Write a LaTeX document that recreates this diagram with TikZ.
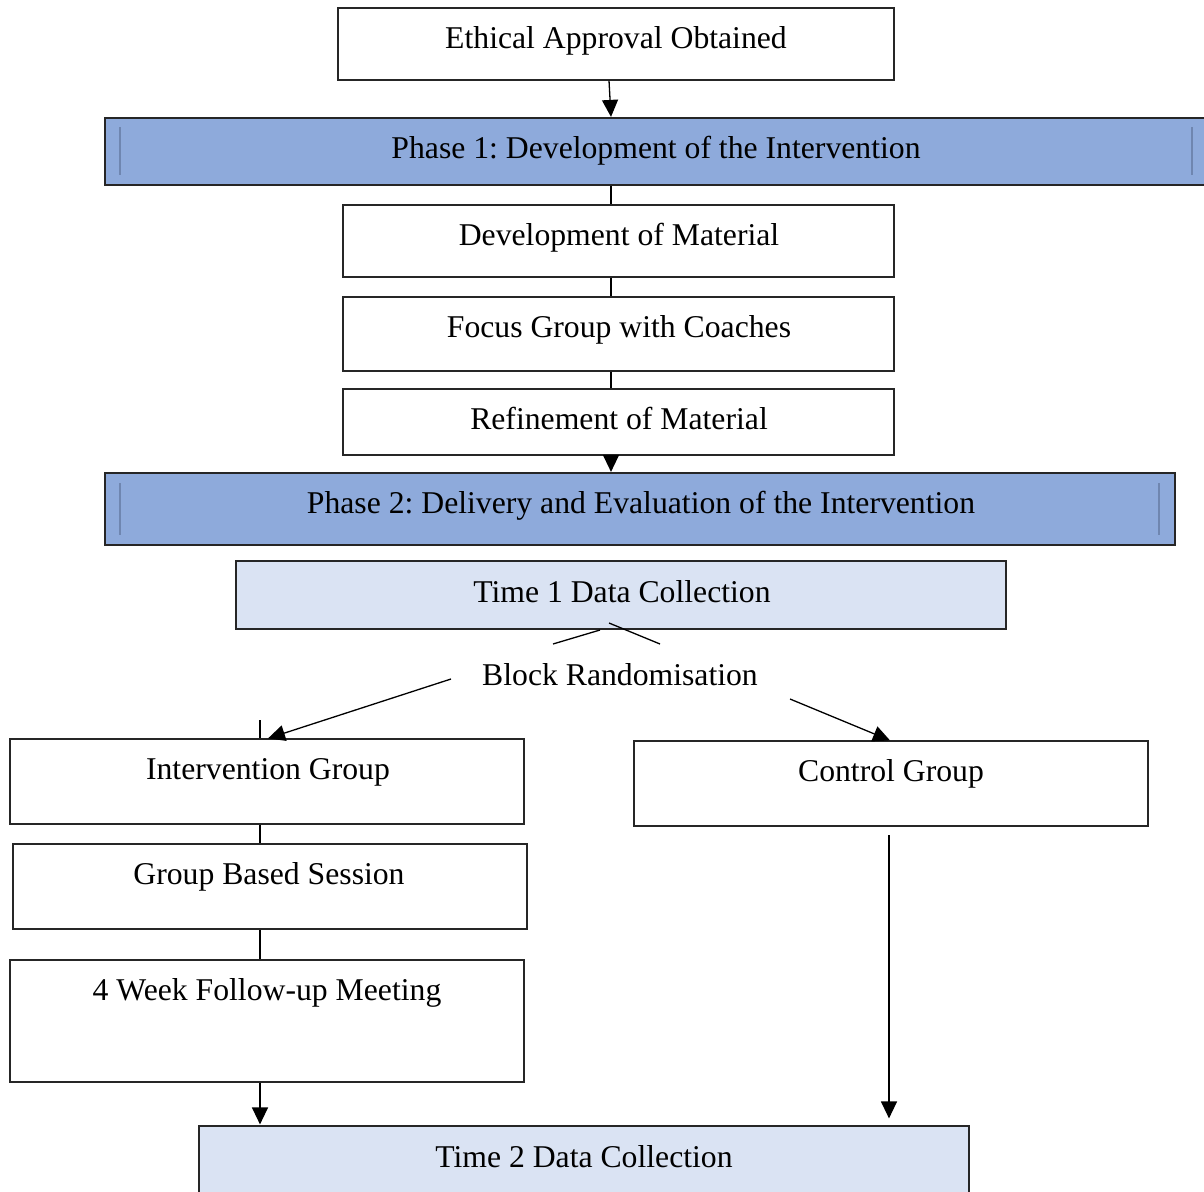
\documentclass[tikz,border=0pt]{standalone}
\usepackage{fontspec}
\setmainfont{Liberation Serif}
\usetikzlibrary{arrows.meta}
\definecolor{phasefill}{HTML}{8EAADB}
\definecolor{phaseline}{HTML}{6F86B0}
\definecolor{timefill}{HTML}{DAE3F3}
\definecolor{edge}{HTML}{262626}
\frenchspacing
\begin{document}
\begin{tikzpicture}[x=1pt,y=-1pt,
  box/.style={draw=edge, line width=1.2pt, fill=white, inner sep=0pt},
  phasebox/.style={draw=edge, line width=2.2pt, fill=phasefill, inner sep=0pt},
  timebox/.style={draw=edge, line width=1.2pt, fill=timefill, inner sep=0pt},
  txt/.style={anchor=base, inner sep=0pt, font=\fontsize{31.7}{38}\selectfont},
  link/.style={draw=black, line width=1.3pt},
  arrowlink/.style={link, -{Triangle[width=16pt,length=17pt]}},
  innerline/.style={draw=phaseline, line width=1.4pt}]
\useasboundingbox (0,0) rectangle (1204,1191);
\clip (0,0) rectangle (1204,1191);
\fill[white] (0,0) rectangle (1204,1191);

% boxes
\node[box, minimum width=556pt, minimum height=72pt] (eth) at (616,44) {};
\node[phasebox, minimum width=1105pt, minimum height=67pt] (ph1) at (657.5,151.5) {};
\node[box, minimum width=551pt, minimum height=72pt] (dev) at (618.5,241) {};
\node[box, minimum width=551pt, minimum height=74pt] (foc) at (618.5,334) {};
\node[box, minimum width=551pt, minimum height=66pt] (ref) at (618.5,422) {};
\node[phasebox, minimum width=1070pt, minimum height=72pt] (ph2) at (640,509) {};
\node[timebox, minimum width=770pt, minimum height=68pt] (t1) at (621,595) {};
\node[box, minimum width=514pt, minimum height=85pt] (ig) at (267,781.5) {};
\node[box, minimum width=514pt, minimum height=85pt] (gbs) at (270,886.5) {};
\node[box, minimum width=514pt, minimum height=122pt] (fw) at (267,1021) {};
\node[box, minimum width=514pt, minimum height=85pt] (cg) at (891,783.5) {};
\node[timebox, minimum width=770pt, minimum height=70pt] (t2) at (584,1161) {};

% vertical marks inside the phase bars
\draw[innerline] (120,127) -- (120,175);
\draw[innerline] (1192,127) -- (1192,175);
\draw[innerline] (120,483) -- (120,535);
\draw[innerline] (1159,483) -- (1159,535);

% labels
\node[txt] (teth) at (616,48) {Ethical Approval Obtained};
\node[txt] (tph1) at (656,158) {Phase 1: Development of the Intervention};
\node[txt] (tdev) at (619,245) {Development of Material};
\node[txt] (tfoc) at (619,337) {Focus Group with Coaches};
\node[txt] (tref) at (619,429) {Refinement of Material};
\node[txt] (tph2) at (641,513) {Phase 2: Delivery and Evaluation of the Intervention};
\node[txt] (tt1) at (622,602) {Time 1 Data Collection};
\node[txt] (br) at (620,685) {Block Randomisation};
\node[txt] (tig) at (268,779) {Intervention Group};
\node[txt] (tgbs) at (269,884) {Group Based Session};
\node[txt] (tfw) at (267,1000) {4 Week Follow-up Meeting};
\node[txt] (tcg) at (891,781) {Control Group};
\node[txt] (tt2) at (584,1167) {Time 2 Data Collection};

% free ends of the connectors
\coordinate (brl) at (451,679);
\coordinate (brr) at (790,699);
\coordinate (cgs) at (889,835);
\coordinate (fa1) at (553,644);
\coordinate (fa2) at (600,630);
\coordinate (fb1) at (609,623);
\coordinate (fb2) at (660,644);

% connectors
\draw[arrowlink] ([xshift=-7pt]eth.south) -- ([xshift=-46.5pt]ph1.north);
\draw[link] ([xshift=-46.5pt]ph1.south) -- ([xshift=-7.5pt]dev.north);
\draw[link] ([xshift=-7.5pt]dev.south) -- ([xshift=-7.5pt]foc.north);
\draw[link] ([xshift=-7.5pt]foc.south) -- ([xshift=-7.5pt]ref.north);
\draw[arrowlink] ([xshift=-7.5pt]ref.south) -- ([xshift=-29pt]ph2.north);
\draw[link] (fa1) -- (fa2);
\draw[link] (fb1) -- (fb2);
\draw[arrowlink] (brl) -- ([xshift=1pt]ig.north);
\draw[link] ([xshift=-7pt]ig.north) -- ++(0,-18);
\draw[arrowlink] (brr) -- ([xshift=-1pt]cg.north);
\draw[link] ([xshift=-7pt]ig.south) -- ([xshift=-10pt]gbs.north);
\draw[link] ([xshift=-10pt]gbs.south) -- ([xshift=-7pt]fw.north);
\draw[arrowlink] ([xshift=-7pt]fw.south) -- ([xshift=-324pt,yshift=1pt]t2.north);
\draw[arrowlink] (cgs) -- ([xshift=305pt,yshift=7pt]t2.north);
\end{tikzpicture}
\end{document}
